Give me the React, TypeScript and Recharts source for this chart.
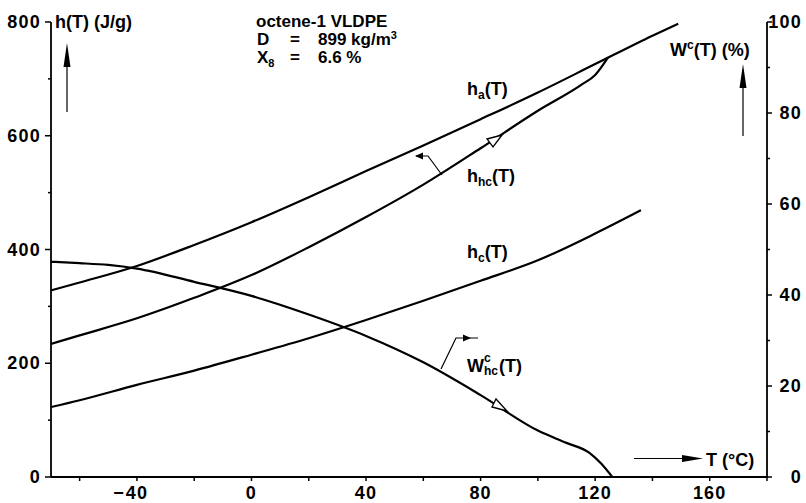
import React from 'react';
import { LineChart, Line, XAxis, YAxis } from 'recharts';

// temperature (°C) and enthalpy h(T) in J/g
const haTemps = [-70, -60, -40, -20, 0, 20, 40, 60, 80, 100, 120, 140, 149];
const haValues = [328, 342, 371, 408, 448, 492, 538, 583, 629, 676, 726, 776, 797];

const hhcTemps = [-70, -60, -40, -20, 0, 20, 40, 60, 80, 100, 115, 120, 124.5];
const hhcValues = [234, 249, 279, 315, 355, 404, 457, 514, 578, 644, 689, 707, 738];

const hcTemps = [-70, -60, -40, -20, 0, 20, 40, 60, 80, 100, 120, 136];
const hcValues = [123, 135, 162, 187, 215, 244, 276, 310, 345, 381, 428, 469];

// crystallinity W^c_hc(T) in %
const wTemps = [-70, -60, -50, -40, -20, 0, 20, 40, 60, 80, 100, 110, 118, 122, 126];
const wValues = [47.3, 47.0, 46.6, 45.8, 42.9, 39.8, 35.7, 31.0, 25.2, 18.0, 10.2, 7.5, 5.3, 3.0, 0];

const xTicks = [-60, -40, -20, 0, 20, 40, 60, 80, 100, 120, 140, 160, 180];
const hTicks = [0, 100, 200, 300, 400, 500, 600, 700, 800];
const wTicks = [0, 10, 20, 30, 40, 50, 60, 70, 80, 90, 100];

const toRows = (t: number[], v: number[]) => t.map((x, i) => ({ t: x, v: v[i] }));

const FONT = '"Liberation Sans", Arial, Helvetica, sans-serif';
const tickText = { fontFamily: FONT, fontWeight: 700, fontSize: 18, letterSpacing: 1.2, fill: '#000' };
const lbl = { fontFamily: FONT, fontWeight: 700, fontSize: 18, fill: '#000' };

function XTick(props: any) {
    const { x, y, payload } = props;
    const v = payload.value;
    return (
        <g>
            <line x1={x} y1={y} x2={x} y2={y + 4} stroke="#000" strokeWidth={1.5} />
            {v % 40 === 0 && (
                <text x={x} y={y + 22} textAnchor="middle" {...tickText}>
                    {Math.abs(v)}
                </text>
            )}
            {v % 40 === 0 && v < 0 && (
                <text x={x - 12} y={y + 22} textAnchor="end" {...tickText}>
                    −
                </text>
            )}
        </g>
    );
}

function LeftTick(props: any) {
    const { x, y, payload } = props;
    const major = payload.value % 200 === 0;
    return (
        <g>
            <line x1={x} y1={y} x2={x - (major ? 6 : 3)} y2={y} stroke="#000" strokeWidth={1.5} />
            {major && (
                <text x={x - 10} y={y + 6} textAnchor="end" {...tickText}>
                    {payload.value}
                </text>
            )}
        </g>
    );
}

function RightTick(props: any) {
    const { x, y, payload } = props;
    const major = payload.value % 20 === 0;
    return (
        <g>
            <line x1={x} y1={y} x2={x + (major ? 5 : 3)} y2={y} stroke="#000" strokeWidth={1.5} />
            {major && (
                <text x={802} y={y + 6} textAnchor="end" {...tickText}>
                    {payload.value}
                </text>
            )}
        </g>
    );
}

function Annotations() {
    return (
        <svg width={806} height={503} style={{ position: 'absolute', left: 0, top: 0, pointerEvents: 'none' }}>
            {/* axis titles */}
            <text x={55} y={28} {...lbl}>h(T)  (J/g)</text>
            <line x1={67} y1={50} x2={67} y2={112} stroke="#000" strokeWidth={1.2} />
            <polygon points="67,43 63.5,67 70.5,67" fill="#000" />

            <text x={670} y={56} {...lbl}>
                W<tspan dy={-7} fontSize={12}>c</tspan>
                <tspan dy={7}>(T)  (%)</tspan>
            </text>
            <line x1={743} y1={70} x2={743} y2={136} stroke="#000" strokeWidth={1.2} />
            <polygon points="743,64 739.5,88 746.5,88" fill="#000" />

            {/* sample info */}
            <text x={256} y={27} {...lbl} fontSize={17}>octene-1 VLDPE</text>
            <text x={257} y={45} {...lbl} fontSize={17}>D</text>
            <text x={290} y={45} {...lbl} fontSize={17}>=</text>
            <text x={318} y={45} {...lbl} fontSize={17}>
                899 kg/m<tspan dy={-6} fontSize={11}>3</tspan>
            </text>
            <text x={257} y={63} {...lbl} fontSize={17}>
                X<tspan dy={4} fontSize={11}>8</tspan>
            </text>
            <text x={290} y={63} {...lbl} fontSize={17}>=</text>
            <text x={318} y={63} {...lbl} fontSize={17}>6.6 %</text>

            {/* curve labels */}
            <text x={467} y={95} {...lbl}>
                h<tspan dy={4} fontSize={12}>a</tspan>
                <tspan dy={-4}>(T)</tspan>
            </text>
            <text x={467} y={182} {...lbl}>
                h<tspan dy={4} fontSize={12}>hc</tspan>
                <tspan dy={-4}>(T)</tspan>
            </text>
            <text x={467} y={258} {...lbl}>
                h<tspan dy={4} fontSize={12}>c</tspan>
                <tspan dy={-4}>(T)</tspan>
            </text>
            <text x={467} y={372} {...lbl}>W</text>
            <text x={484} y={362} {...lbl} fontSize={12}>c</text>
            <text x={484} y={375} {...lbl} fontSize={12}>hc</text>
            <text x={499} y={372} {...lbl}>(T)</text>

            {/* axis pointers */}
            <polyline points="442,175 428,156 416,156" fill="none" stroke="#000" strokeWidth={1.2} />
            <polygon points="415,156 423,152.5 423,159.5" fill="#000" />
            <polyline points="441,369 456,338 478,338" fill="none" stroke="#000" strokeWidth={1.2} />
            <polygon points="471,338 463,334.5 463,341.5" fill="#000" />

            {/* heating direction arrowheads */}
            <polygon points="502,135 487,139 493,147" fill="#fff" stroke="#000" strokeWidth={1.3} />
            <polygon points="507,411 492,407 496,399" fill="#fff" stroke="#000" strokeWidth={1.3} />

            {/* T axis arrow */}
            <line x1={634} y1={458.5} x2={684} y2={458.5} stroke="#000" strokeWidth={1.2} />
            <polygon points="703,458.5 682,455 682,462" fill="#000" />
            <text x={706} y={466} {...lbl}>T (°C)</text>
        </svg>
    );
}

export default function App() {
    return (
        <div style={{ position: 'absolute', left: 0, top: 0, width: 806, height: 503, background: '#fff' }}>
            <LineChart width={806} height={503} margin={{ top: 22, right: 0, bottom: 0, left: 0 }}>
                <XAxis
                    type="number"
                    dataKey="t"
                    domain={[-70, 180]}
                    ticks={xTicks}
                    interval={0}
                    allowDataOverflow
                    height={26}
                    tickSize={0}
                    tickMargin={0}
                    tickLine={false}
                    tick={<XTick />}
                    axisLine={{ stroke: '#000', strokeWidth: 1.8 }}
                />
                <YAxis
                    yAxisId="h"
                    domain={[0, 800]}
                    ticks={hTicks}
                    interval={0}
                    width={51}
                    tickSize={0}
                    tickMargin={0}
                    tickLine={false}
                    tick={<LeftTick />}
                    axisLine={{ stroke: '#000', strokeWidth: 1.8 }}
                />
                <YAxis
                    yAxisId="w"
                    orientation="right"
                    domain={[0, 100]}
                    ticks={wTicks}
                    interval={0}
                    width={39}
                    tickSize={0}
                    tickMargin={0}
                    tickLine={false}
                    tick={<RightTick />}
                    axisLine={{ stroke: '#000', strokeWidth: 1.8 }}
                />
                <Line data={toRows(haTemps, haValues)} dataKey="v" yAxisId="h" type="monotone" stroke="#000" strokeWidth={2.2} dot={false} activeDot={false} isAnimationActive={false} />
                <Line data={toRows(hhcTemps, hhcValues)} dataKey="v" yAxisId="h" type="monotone" stroke="#000" strokeWidth={2.2} dot={false} activeDot={false} isAnimationActive={false} />
                <Line data={toRows(hcTemps, hcValues)} dataKey="v" yAxisId="h" type="monotone" stroke="#000" strokeWidth={2.2} dot={false} activeDot={false} isAnimationActive={false} />
                <Line data={toRows(wTemps, wValues)} dataKey="v" yAxisId="w" type="monotone" stroke="#000" strokeWidth={2.2} dot={false} activeDot={false} isAnimationActive={false} />
            </LineChart>
            <Annotations />
        </div>
    );
}
